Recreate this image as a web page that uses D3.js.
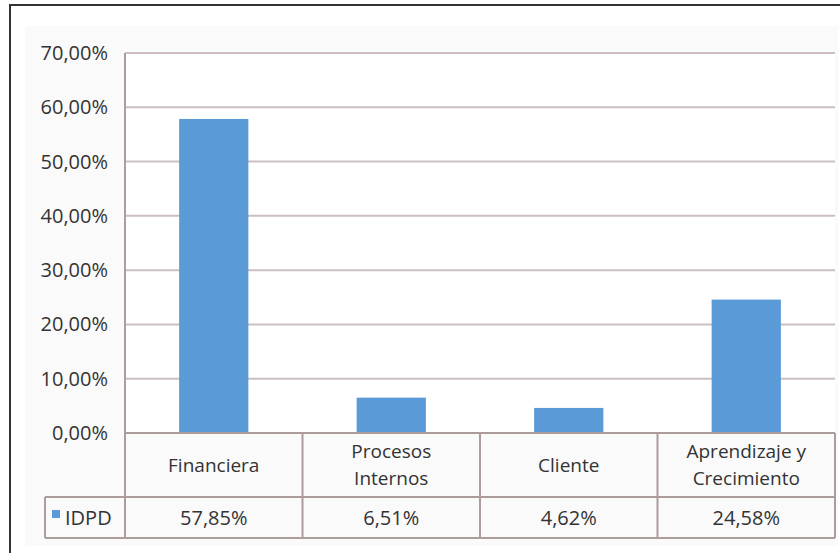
<!DOCTYPE html>
<html>
<head>
<meta charset="utf-8">
<script src="https://cdn.jsdelivr.net/npm/d3@7/dist/d3.min.js"></script>
<style>
  html, body { margin: 0; padding: 0; background: #ffffff; }
  svg { display: block; }
  text { font-family: "Open Sans", "DejaVu Sans", sans-serif; fill: #333333; font-weight: 500; }
</style>
</head>
<body>
<svg id="chart" width="840" height="553"></svg>
<script>
// Perspectivas y su índice IDPD
const categories = [["Financiera"], ["Procesos", "Internos"], ["Cliente"], ["Aprendizaje y", "Crecimiento"]];
const seriesName = "IDPD";
const values = [57.85, 6.51, 4.62, 24.58];
const valueLabels = ["57,85%", "6,51%", "4,62%", "24,58%"];
const yTicks = [0, 10, 20, 30, 40, 50, 60, 70];
const yTickLabels = ["0,00%", "10,00%", "20,00%", "30,00%", "40,00%", "50,00%", "60,00%", "70,00%"];

const svg = d3.select("#chart");

const plot = { left: 125, right: 835, top: 53, bottom: 433 };
const tableBottomCat = 497, tableBottom = 538, tableLeft = 45;

// outer frame and chart area
svg.append("rect").attr("x", 25).attr("y", 26).attr("width", 813).attr("height", 520).attr("fill", "#fafafa");
svg.append("rect").attr("x", 10).attr("y", 5).attr("width", 860).attr("height", 600)
  .attr("fill", "none").attr("stroke", "#333").attr("stroke-width", 2);
svg.append("rect").attr("x", plot.left).attr("y", plot.top)
  .attr("width", plot.right - plot.left).attr("height", plot.bottom - plot.top).attr("fill", "#ffffff");

const x = d3.scaleBand().domain(d3.range(categories.length)).range([plot.left, plot.right]).paddingInner(0).paddingOuter(0);
const y = d3.scaleLinear().domain([0, 70]).range([plot.bottom, plot.top]);

const gridColor = "#cdbfbf";
const tableColor = "#ac9c9c";

// gridlines
svg.append("g").selectAll("line").data(yTicks.filter(d => d > 0)).join("line")
  .attr("x1", plot.left).attr("x2", plot.right)
  .attr("y1", d => y(d)).attr("y2", d => y(d))
  .attr("stroke", gridColor).attr("stroke-width", 2);

// y tick labels
svg.append("g").selectAll("text").data(yTicks).join("text")
  .attr("x", 108).attr("y", d => y(d)).attr("dy", "0.35em")
  .attr("text-anchor", "end").attr("font-size", 20)
  .text((d, i) => yTickLabels[i]);

// bars
const barW = x.bandwidth() * 0.39;
svg.append("g").selectAll("rect").data(values).join("rect")
  .attr("x", (d, i) => x(i) + (x.bandwidth() - barW) / 2)
  .attr("width", barW)
  .attr("y", d => y(d)).attr("height", d => y(0) - y(d))
  .attr("fill", "#5a9ad6");

// data table
const t = svg.append("g").attr("stroke", tableColor).attr("stroke-width", 2);
t.append("line").attr("x1", plot.left).attr("x2", plot.left).attr("y1", plot.top).attr("y2", tableBottom);
t.append("line").attr("x1", plot.left).attr("x2", plot.right).attr("y1", plot.bottom).attr("y2", plot.bottom);
t.append("line").attr("x1", tableLeft).attr("x2", plot.right).attr("y1", tableBottomCat).attr("y2", tableBottomCat);
t.append("line").attr("x1", tableLeft).attr("x2", plot.right).attr("y1", tableBottom).attr("y2", tableBottom);
t.append("line").attr("x1", tableLeft).attr("x2", tableLeft).attr("y1", tableBottomCat).attr("y2", tableBottom);
t.selectAll("line.div").data(d3.range(1, categories.length + 1)).join("line")
  .attr("class", "div")
  .attr("x1", i => x(i - 1) + x.bandwidth()).attr("x2", i => x(i - 1) + x.bandwidth())
  .attr("y1", plot.bottom).attr("y2", tableBottom);

// category labels
const catMid = (plot.bottom + tableBottomCat) / 2;
const lineH = 27;
svg.append("g").selectAll("text").data(categories).join("text")
  .attr("x", (d, i) => x(i) + x.bandwidth() / 2)
  .attr("y", catMid)
  .attr("text-anchor", "middle").attr("font-size", 19)
  .each(function(lines) {
    const n = lines.length;
    d3.select(this).selectAll("tspan").data(lines).join("tspan")
      .attr("x", d3.select(this).attr("x"))
      .attr("y", (l, j) => catMid + (j - (n - 1) / 2) * lineH)
      .attr("dy", "0.35em")
      .text(l => l);
  });

// value row
const valMid = (tableBottomCat + tableBottom) / 2;
svg.append("g").selectAll("text").data(valueLabels).join("text")
  .attr("x", (d, i) => x(i) + x.bandwidth() / 2)
  .attr("y", valMid).attr("dy", "0.35em")
  .attr("text-anchor", "middle").attr("font-size", 20)
  .text(d => d);

// legend key
svg.append("rect").attr("x", 52).attr("y", 510).attr("width", 8).attr("height", 8).attr("fill", "#5a9ad6");
svg.append("text").attr("x", 65).attr("y", valMid).attr("dy", "0.35em")
  .attr("font-size", 20).text(seriesName);
</script>
</body>
</html>
